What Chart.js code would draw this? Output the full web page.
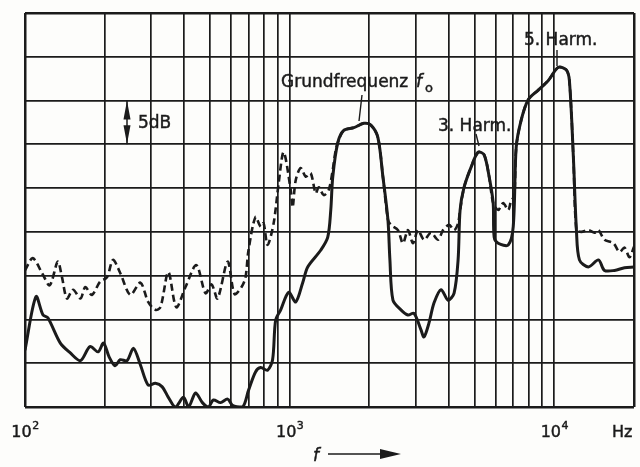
<!DOCTYPE html>
<html>
<head>
<meta charset="utf-8">
<script src="https://cdn.jsdelivr.net/npm/chart.js@4.4.1/dist/chart.umd.min.js"></script>
<style>
  html, body { margin: 0; padding: 0; background: #fdfdfb; }
  #wrap { width: 640px; height: 467px; }
</style>
</head>
<body>
<div id="wrap"><canvas id="resp" width="640" height="467"></canvas></div>
<script>
// Solid curve, frequency in Hz, level in dB above bottom grid line
const solidFreq = [100,110,117,122,136,148,162,176,189,198,208,219,229,243,257,273,292,311,330,348,370,397,415,441,468,493,515,548,583,608,664,699,743,777,825,862,885,925,991,1054,1120,1170,1310,1393,1430,1455,1520,1601,1748,1907,2027,2154,2251,2351,2392,2456,2633,2799,2949,3135,3218,3361,3512,3733,3967,4181,4329,4405,4561,4848,5153,5430,5672,5874,5925,6136,6696,6994,7179,7499,7970,8699,9491,10360,11100,11400,11800,12120,12440,13450,14680,15470,16880,18420,20000];
const solidDb = [6.5,12.6,10.5,10.2,7.3,6.2,5.3,6.9,6.3,7.3,5.7,4.7,5.4,5.3,6.7,4.8,2.5,2.7,2.3,1.1,0,1.1,0,1.6,0.5,0,0.8,0.5,0.9,0.2,0,1.9,4.0,4.5,4.2,5.4,9.9,11.1,13.1,12.0,14.2,16.0,17.9,19.4,22.5,26.3,30.2,31.6,31.9,32.4,32.2,30.8,26.3,21.4,16.8,12.2,11.1,10.5,10.7,8.8,8.0,9.6,11.9,13.4,12.2,13.0,16.8,22.5,25.1,27.4,29.1,28.8,26.3,23.3,19.4,18.7,18.5,20.6,29.7,32.8,35.1,36.2,37.3,38.8,38.5,37.3,28.6,20.2,16.8,16.0,16.8,15.6,15.6,15.9,16.0];

// Dashed curve
const dashFreq = [100,107,116,124,133,138,144,152,162,169,179,192,204,215,229,250,273,292,311,325,348,373,404,444,481,507,534,583,619,658,681,699,743,777,797,825,870,909,949,1009,1026,1054,1101,1150,1201,1254,1288,1345,1405,1455,1494,1533,1601,1748,1907,2027,2154,2251,2351,2413,2565,2679,2799,2924,3053,3218,3420,3636,3797,4003,4181,4329,4405,4561,4848,5153,5430,5672,5874,6136,6411,6696,6872,7055,7179,7499,7970,8699,9491,10360,11100,11400,11800,12120,12660,13450,14180,14680,15470,16730,17630,18420,19230,20000];
const dashDb = [15.6,17.0,15.3,13.9,16.6,14.8,12.4,13.4,12.4,13.7,12.8,14.3,14.8,16.8,15.3,12.8,14.2,12.0,11.1,11.4,15.4,11.4,13.7,16.2,13.0,14.0,12.4,16.6,12.9,13.7,14.8,17.9,21.7,20.6,21.0,18.5,21.0,25.6,29.1,24.8,22.8,25.9,27.3,26.3,26.7,24.4,25.1,24.2,24.8,27.1,29.4,30.5,31.6,31.9,32.4,32.2,30.8,26.3,21.4,20.8,20.2,18.7,20.2,18.7,20.2,19.1,19.9,19.1,20.2,20.8,20.2,21.0,22.5,25.1,27.4,29.1,28.8,26.3,23.3,22.5,23.3,22.5,23.6,24.0,29.7,32.8,35.1,36.2,37.3,38.8,38.5,37.3,28.6,20.2,20.0,20.2,19.9,20.2,19.1,18.7,17.7,18.2,17.1,18.3];

// vertical grid lines and the labelled decades
const gridFreq = [100,200,300,400,500,600,700,800,900,1000,2000,3000,4000,5000,6000,7000,8000,9000,10000,20000];
const tickValues = [100, 1000, 10000];
const tickExps = ['2', '3', '4'];

const INK = '#1b1b1b';
const FONT = '"DejaVu Sans", sans-serif';

function toPoints(xs, ys) {
    return xs.map((x, i) => ({ x: x, y: ys[i] }));
}

// text drawn slightly heavier, like the printed original
function inkText(c, txt, x, y) {
    c.fillText(txt, x, y);
    c.strokeText(txt, x, y);
}

const paperPlugin = {
    id: 'paper',
    beforeDraw(chart) {
        const c = chart.ctx;
        c.save();
        c.fillStyle = '#fdfdfb';
        c.fillRect(0, 0, chart.width, chart.height);
        c.restore();
    }
};

const labelsPlugin = {
    id: 'labels',
    afterDraw(chart) {
        const c = chart.ctx;
        const xs = chart.scales.x;
        const ys = chart.scales.y;
        c.save();
        c.fillStyle = INK;
        c.strokeStyle = INK;
        c.textBaseline = 'alphabetic';
        c.lineWidth = 0.45;

        // decade labels 10^n
        tickValues.forEach((v, i) => {
            const px = xs.getPixelForValue(v);
            c.font = '16px ' + FONT;
            const w1 = c.measureText('10').width;
            c.font = '11px ' + FONT;
            const w2 = c.measureText(tickExps[i]).width;
            const left = px - (w1 + w2) / 2;
            c.font = '16px ' + FONT;
            inkText(c, '10', left, 437);
            c.font = '11px ' + FONT;
            inkText(c, tickExps[i], left + w1 + 0.5, 429);
        });
        c.font = '16px ' + FONT;
        inkText(c, 'Hz', 612, 437);

        // f ---->
        c.font = 'italic 17px ' + FONT;
        inkText(c, 'f', 313, 461);
        c.lineWidth = 1.6;
        c.beginPath();
        c.moveTo(328, 454);
        c.lineTo(384, 454);
        c.stroke();
        c.beginPath();
        c.moveTo(401, 454);
        c.lineTo(380, 449);
        c.lineTo(380, 459);
        c.closePath();
        c.fill();

        // 5 dB scale marker
        const yTop = ys.getPixelForValue(35);
        const yBot = ys.getPixelForValue(30);
        const ax = 127;
        c.lineWidth = 1.5;
        c.beginPath();
        c.moveTo(ax, yTop);
        c.lineTo(ax, yBot);
        c.stroke();
        c.beginPath();
        c.moveTo(ax, yTop);
        c.lineTo(ax - 3.5, yTop + 19);
        c.lineTo(ax + 3.5, yTop + 19);
        c.closePath();
        c.fill();
        c.beginPath();
        c.moveTo(ax, yBot);
        c.lineTo(ax - 3.5, yBot - 19);
        c.lineTo(ax + 3.5, yBot - 19);
        c.closePath();
        c.fill();

        c.lineWidth = 0.45;
        c.font = '17px ' + FONT;
        inkText(c, '5dB', 138, 128);

        // peak annotations
        inkText(c, 'Grundfrequenz', 281, 87);
        c.font = 'italic 17px ' + FONT;
        inkText(c, 'f', 416, 87);
        c.font = '13px ' + FONT;
        inkText(c, 'o', 425, 92);
        c.font = '17px ' + FONT;
        inkText(c, '3. Harm.', 438, 131);
        inkText(c, '5. Harm.', 524, 45);

        c.lineWidth = 1.4;
        c.beginPath();
        c.moveTo(362, 95); c.lineTo(359, 121);
        c.moveTo(476, 134); c.lineTo(479, 146);
        c.moveTo(557, 50); c.lineTo(557, 66);
        c.stroke();
        c.restore();
    }
};

const edge = (v, a, b) => (v === a || v === b) ? 2.5 : 1.7;

new Chart(document.getElementById('resp'), {
    type: 'line',
    data: {
        datasets: [{
            label: 'solid',
            data: toPoints(solidFreq, solidDb),
            borderColor: INK,
            borderWidth: 3,
            pointRadius: 0,
            tension: 0.3,
            fill: false
        }, {
            label: 'dashed',
            data: toPoints(dashFreq, dashDb),
            borderColor: INK,
            borderWidth: 2.6,
            borderDash: [7, 4],
            pointRadius: 0,
            tension: 0.3,
            fill: false
        }]
    },
    options: {
        responsive: false,
        animation: false,
        devicePixelRatio: 1,
        layout: { padding: { left: 25, right: 6, top: 13, bottom: 60 } },
        plugins: {
            legend: { display: false },
            tooltip: { enabled: false }
        },
        scales: {
            x: {
                type: 'logarithmic',
                min: 100,
                max: 20000,
                afterBuildTicks: (s) => { s.ticks = gridFreq.map(v => ({ value: v })); },
                ticks: { display: false, autoSkip: false },
                grid: {
                    color: INK,
                    lineWidth: (ctx) => edge(ctx.tick && ctx.tick.value, 100, 20000),
                    drawTicks: false
                },
                border: { display: false }
            },
            y: {
                min: 0,
                max: 45,
                ticks: { display: false, stepSize: 5 },
                grid: {
                    color: INK,
                    lineWidth: (ctx) => edge(ctx.tick && ctx.tick.value, 0, 45),
                    drawTicks: false
                },
                border: { display: false }
            }
        }
    },
    plugins: [paperPlugin, labelsPlugin]
});
</script>
</body>
</html>
